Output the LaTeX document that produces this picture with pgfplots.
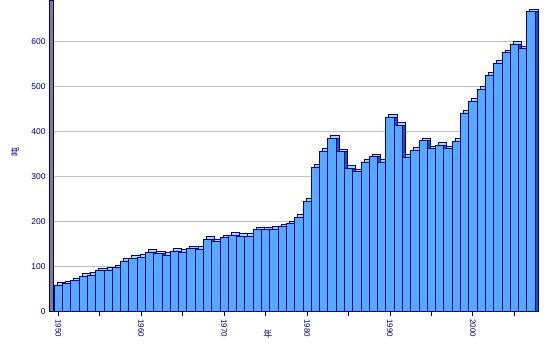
\documentclass[border=0pt]{standalone}
\usepackage{pgfplots}
\pgfplotsset{compat=1.18}
\usepackage{pgfplotstable}
\usepackage{fontspec}
\setmainfont{Liberation Sans}
\newfontfamily\cjk{Noto Sans CJK SC}
\definecolor{navy}{RGB}{0,0,128}
\definecolor{barfill}{RGB}{85,170,255}
\definecolor{barside}{RGB}{30,80,190}
\definecolor{bartop}{RGB}{160,220,255}
\definecolor{gridgray}{RGB}{192,192,192}
\definecolor{wallgray}{RGB}{128,128,128}

\pgfplotstableread{
year value
1950 59
1951 63
1952 69
1953 79
1954 81
1955 91
1956 93
1957 98
1958 113
1959 119
1960 121
1961 133
1962 129
1963 126
1964 135
1965 133
1966 140
1967 139
1968 161
1969 156
1970 165
1971 170
1972 168
1973 168
1974 183
1975 183
1976 184
1977 189
1978 196
1979 210
1980 246
1981 322
1982 357
1983 386
1984 356
1985 319
1986 311
1987 333
1988 345
1989 333
1990 433
1991 415
1992 344
1993 359
1994 380
1995 363
1996 370
1997 363
1998 379
1999 442
2000 468
2001 495
2002 526
2003 553
2004 576
2005 595
2006 585
2007 667
}\datatable

\begin{document}
\begin{tikzpicture}
\useasboundingbox (0,0) rectangle (551bp,357bp);
\begin{axis}[
  at={(53bp,45.3bp)}, anchor=south west,
  scale only axis, width=485bp, height=311.7bp,
  xmin=1949.36, xmax=2007.86, ymin=0, ymax=693,
  clip=false,
  axis x line*=bottom, axis y line*=left,
  axis line style={navy, line width=1.2bp, -},
  xtick={1950,1960,...,2000}, minor xtick={1955,1965,...,2005},
  ytick={0,100,...,600}, minor ytick={50,150,...,650},
  tick style={navy, line width=0.8bp},
  tick align=outside,
  major tick length=4bp, minor tick length=4bp,
  /pgf/number format/assume math mode=true,
  /pgf/number format/1000 sep={},
  xticklabel style={rotate=-90, anchor=west, font=\fontsize{8}{9}\selectfont, text=navy},
  yticklabel style={font=\fontsize{8.5}{9}\selectfont, text=navy},
  ymajorgrids, grid style={gridgray, line width=0.8bp},
  xlabel={\cjk 年}, ylabel={\cjk 吨},
  xlabel style={at={(rel axis cs:0.443,-0.0706)}, anchor=center, font=\fontsize{9}{10}\selectfont, text=navy},
  ylabel style={at={(rel axis cs:-0.0784,0.512)}, anchor=center, font=\fontsize{9}{10}\selectfont, text=navy},
]
\draw[navy, fill=wallgray, line width=0.8bp] ([xshift=-4bp]rel axis cs:0,0) rectangle (rel axis cs:0,1);
\addplot[ybar, bar width=8.29bp, bar shift=0pt, fill=bartop, draw=navy, line width=0.7bp, xshift=3bp, yshift=2.5bp] table[x=year, y=value] {\datatable};
\addplot[ybar, bar width=8.29bp, bar shift=0pt, fill=barside, draw=navy, line width=0.7bp, xshift=3bp] table[x=year, y=value] {\datatable};
\addplot[ybar, bar width=8.29bp, bar shift=0pt, fill=barfill, draw=navy, line width=0.7bp] table[x=year, y=value] {\datatable};
\end{axis}
\end{tikzpicture}
\end{document}
